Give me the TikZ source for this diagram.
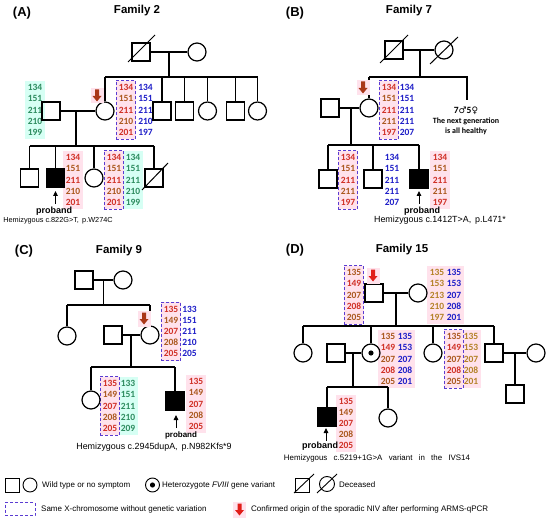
\documentclass[tikz,border=0pt]{standalone}
\usepackage{fontspec}
\setmainfont{Liberation Sans}
\newfontfamily\numf{Carlito}
\newfontfamily\symf{DejaVu Sans}
\usetikzlibrary{calc,arrows.meta}
\definecolor{cred}{RGB}{208,48,38}
\definecolor{cbrown}{RGB}{170,88,30}
\definecolor{cblue}{RGB}{30,30,200}
\definecolor{cgreen}{RGB}{45,140,95}
\definecolor{colive}{RGB}{180,130,40}
\definecolor{cdash}{RGB}{90,60,210}
\definecolor{cpink}{RGB}{255,226,236}
\definecolor{ccyan}{RGB}{214,255,244}
\definecolor{carrowA}{RGB}{170,55,25}
\definecolor{carrowD}{RGB}{225,30,25}
\newcommand{\RB}[5]{\textcolor{cred}{#1}\\\textcolor{cbrown}{#2}\\\textcolor{cred}{#3}\\\textcolor{cbrown}{#4}\\\textcolor{cred}{#5}}
\newcommand{\BR}[5]{\textcolor{cbrown}{#1}\\\textcolor{cred}{#2}\\\textcolor{cbrown}{#3}\\\textcolor{cred}{#4}\\\textcolor{cbrown}{#5}}
\newcommand{\widesp}{\spaceskip=6.3pt\relax}
\tikzset{
  ind/.style={draw, line width=1.2pt, inner sep=0pt, minimum size=18pt},
  male/.style={ind, rectangle},
  female/.style={ind, circle},
  aff/.style={male, fill=black},
  hetf/.style={female, path picture={\fill (path picture bounding box.center) circle (2.6pt);}},
  ln/.style={line width=1.2pt},
  col/.style={font=\numf\bfseries\fontsize{9.5}{11.2}\selectfont, align=center, inner xsep=2.7pt, inner ysep=3.8pt},
  dbox/.style={col, draw=cdash, dash pattern=on 3pt off 2pt, line width=0.9pt, fill=cpink},
  pinkc/.style={col, fill=cpink, inner ysep=3pt},
  cyanc/.style={col, fill=ccyan, text=cgreen, inner ysep=3pt},
  bluec/.style={col, text=cblue},
  olivec/.style={col, text=colive},
  ttl/.style={font=\bfseries\fontsize{11.5}{13}\selectfont},
  lbl/.style={font=\bfseries\fontsize{13}{15}\selectfont},
  prb/.style={font=\bfseries\fontsize{#1}{#1}\selectfont, inner sep=0pt},
  hemi/.style={font=\fontsize{#1}{#1}\selectfont, inner sep=0pt},
  leg/.style={font=\fontsize{8}{9}\selectfont, anchor=west, inner sep=0pt},
  nxt/.style={font=\numf\bfseries\fontsize{8}{9}\selectfont, inner sep=0pt},
  parr/.style={-{Triangle[length=5pt,width=4.5pt]}, line width=0.9pt},
  slash/.style={line width=1pt},
  pics/origin/.style={code={
    \fill[cpink] (-6.5,-8) rectangle (6.5,7.5);
    \fill[#1] (-2,-6.5) -- (2,-6.5) -- (2,0) -- (4.5,0) -- (0,5.5) -- (-4.5,0) -- (-2,0) -- cycle;
  }},
}
\begin{document}
\begin{tikzpicture}[x=1pt,y=-1pt]
\useasboundingbox (0,0) rectangle (550,519);
\fill[white] (0,0) rectangle (550,519);

%%%%%%%%%%%%%%%% Panel A
\node[lbl] (lA) at (22,13) {(A)};
\node[ttl] (tA) at (137,11) {Family 2};
% allele columns
\node[cyanc] (ga1) at (35,110) {134\\151\\211\\210\\199};
\node[dbox] (da1) at (126,110) {\RB{134}{151}{211}{210}{201}};
\node[bluec] (ba1) at (145.5,110) {134\\151\\211\\210\\197};
\node[pinkc] (pa1) at (73,180) {\RB{134}{151}{211}{210}{201}};
\node[cyanc] (ga2) at (133,180) {134\\151\\211\\210\\199};
\node[dbox] (da2) at (114,180) {\RB{134}{151}{211}{210}{201}};
% individuals
\node[male] (a1) at (141,52) {};
\node[female] (a2) at (197,52) {};
\node[female] (a3) at (105,111) {};
\node[male] (a4) at (162,111) {};
\node[male] (a5) at (184.5,111) {};
\node[female] (a6) at (207.5,111) {};
\node[male] (a7) at (235.5,111) {};
\node[female] (a8) at (257.5,111) {};
\node[male] (a9) at (51,111) {};
\node[male] (a10) at (29.5,178) {};
\node[aff] (a11) at (55.5,178) {};
\node[female] (a12) at (94,178) {};
\node[male] (a13) at (154,178) {};
\draw[slash] ($(a1)+(-13,10)$) -- ($(a1)+(14,-17)$);
\draw[slash] ($(a13)+(-12,12)$) -- ($(a13)+(14,-15)$);
% lines
\coordinate (am) at (169,52);
\coordinate (as) at (169,77);
\draw[ln] (a1.east) -- (a2.west);
\draw[ln] (am) -- (as);
\draw[ln] (a3.north |- as) -- (a8.north |- as);
\foreach \n in {a3,a4,a5,a6,a7,a8} \draw[ln] (\n.north |- as) -- (\n.north);
\coordinate (am2) at (76,111);
\coordinate (as2) at (76,146);
\draw[ln] (a9.east) -- (a3.west);
\draw[ln] (am2) -- (as2);
\draw[ln] (a10.north |- as2) -- (a13.north |- as2);
\foreach \n in {a10,a11,a12,a13} \draw[ln] (\n.north |- as2) -- (\n.north);
\pic at (97,96) {origin=carrowA};
\coordinate (pA) at (55.5,204);
\draw[parr] (pA) -- ++(0,-13);
\node[prb=9] (prA) at (54,211) {proband};
\node[hemi=7.3] (hA) at (58,220.5) {Hemizygous c.822G>T,\, p.W274C};

%%%%%%%%%%%%%%%% Panel B
\node[lbl] (lB) at (295,13) {(B)};
\node[ttl] (tB) at (409,11) {Family 7};
\node[dbox] (db1) at (389,110) {\RB{134}{151}{211}{211}{197}};
\node[bluec] (bb1) at (407,110) {134\\151\\211\\211\\207};
\node[dbox] (db2) at (348,180) {\RB{134}{151}{211}{211}{197}};
\node[bluec] (bb2) at (392,180) {134\\151\\211\\211\\207};
\node[pinkc] (pb1) at (440,180) {\RB{134}{151}{211}{211}{197}};
\node[male] (b1) at (394,50) {};
\node[female] (b2) at (444,50) {};
\node[female] (b3) at (369,108) {};
\node[male] (b4) at (330,108) {};
\node[male] (b5) at (328,179) {};
\node[male] (b6) at (373,179) {};
\node[aff] (b7) at (419,179) {};
\draw[slash] ($(b1)+(-14,13)$) -- ($(b1)+(14,-15)$);
\draw[slash] ($(b2)+(-14,14)$) -- ($(b2)+(14,-13)$);
\coordinate (bm) at (420,50);
\coordinate (bs) at (420,77);
\coordinate (bsR) at (467,77);
\coordinate (bR) at (467,100);
\draw[ln] (b1.east) -- (b2.west);
\draw[ln] (bm) -- (bs);
\draw[ln] (b3.north |- bs) -- (bsR) -- (bR);
\draw[ln] (b3.north |- bs) -- (b3.north);
\node[nxt] (bt1) at (466,111) {\fontsize{9.5}{10}\selectfont 7{\symf\fontsize{9}{10}\selectfont ♂}5{\symf\fontsize{9}{10}\selectfont ♀}};
\node[nxt] (bt2) at (466,121.5) {The next generation};
\node[nxt] (bt3) at (466,131) {is all healthy};
\coordinate (bm2) at (351,108);
\coordinate (bs2) at (351,145);
\draw[ln] (b4.east) -- (b3.west);
\draw[ln] (bm2) -- (bs2);
\draw[ln] (b5.north |- bs2) -- (b7.north |- bs2);
\foreach \n in {b5,b6,b7} \draw[ln] (\n.north |- bs2) -- (\n.north);
\pic at (363,88) {origin=carrowA};
\coordinate (pB) at (419,204);
\draw[parr] (pB) -- ++(0,-13);
\node[prb=9] (prB) at (422,211) {proband};
\node[hemi=8.9] (hB) at (440,220.5) {Hemizygous c.1412T>A,\, p.L471*};

%%%%%%%%%%%%%%%% Panel C
\node[lbl] (lC) at (24,251) {(C)};
\node[ttl] (tC) at (119,251) {Family 9};
\node[dbox] (dc1) at (171,331.5) {\RB{135}{149}{207}{208}{205}};
\node[bluec] (bc1) at (189.5,331.5) {133\\151\\211\\210\\205};
\node[cyanc] (gc1) at (128,406) {133\\151\\211\\210\\209};
\node[dbox] (dc2) at (110,406) {\RB{135}{149}{207}{208}{205}};
\node[pinkc] (pc1) at (196,404) {\RB{135}{149}{207}{208}{205}};
\node[male] (c1) at (84,280) {};
\node[female] (c2) at (123,280) {};
\node[female] (c3) at (67,336) {};
\node[male] (c5) at (113,335) {};
\node[female] (c4) at (150,335) {};
\node[female] (c6) at (91,400) {};
\node[aff] (c7) at (175,401) {};
\coordinate (cm) at (103.5,280);
\coordinate (cs) at (103.5,305);
\draw[ln] (c1.east) -- (c2.west);
\draw[ln] (cm) -- (cs);
\draw[ln] (c3.north |- cs) -- (c4.north |- cs);
\foreach \n in {c3,c4} \draw[ln] (\n.north |- cs) -- (\n.north);
\coordinate (cm2) at (131,335);
\coordinate (cs2) at (131,367);
\draw[ln] (c5.east) -- (c4.west);
\draw[ln] (cm2) -- (cs2);
\draw[ln] (c6.north |- cs2) -- (c7.north |- cs2);
\foreach \n in {c6,c7} \draw[ln] (\n.north |- cs2) -- (\n.north);
\pic at (144,319) {origin=carrowA};
\coordinate (pC) at (176,428);
\draw[parr] (pC) -- ++(0,-13);
\node[prb=8] (prC) at (181,435) {proband};
\node[hemi=8.9] (hC) at (154,447.5) {Hemizygous c.2945dupA,\, p.N982Kfs*9};

%%%%%%%%%%%%%%%% Panel D
\node[lbl] (lD) at (295,250) {(D)};
\node[ttl] (tD) at (402,250) {Family 15};
\node[dbox] (dd1) at (354,295) {\BR{135}{149}{207}{208}{205}};
\node[olivec, fill=cpink] (od1) at (437,295) {135\\153\\213\\210\\197};
\node[bluec, fill=cpink] (bd1) at (454,295) {135\\153\\207\\208\\201};
\node[pinkc] (pd1) at (388,359) {\BR{135}{149}{207}{208}{205}};
\node[bluec, fill=cpink] (bd2) at (405,359) {135\\153\\207\\208\\201};
\node[olivec, fill=cpink] (od2) at (471,359) {135\\153\\207\\208\\201};
\node[dbox] (dd2) at (454,359) {\BR{135}{149}{207}{208}{205}};
\node[pinkc] (pd2) at (346,423.5) {\RB{135}{149}{207}{208}{205}};
\node[male] (d1) at (374,293) {};
\node[female] (d2) at (418,293) {};
\node[female] (d3) at (303,353) {};
\node[male] (d4) at (336,353) {};
\node[hetf] (d5) at (371,353) {};
\node[female] (d6) at (433,353) {};
\node[male] (d7) at (494,353) {};
\node[female] (d8) at (536,353) {};
\node[aff] (d9) at (327,417) {};
\node[female] (d10) at (388,418) {};
\node[male] (d11) at (515,394) {};
\coordinate (dm) at (396,293);
\coordinate (ds) at (396,326);
\draw[ln] (d1.east) -- (d2.west);
\draw[ln] (dm) -- (ds);
\draw[ln] (d3.north |- ds) -- (d7.north |- ds);
\foreach \n in {d3,d5,d6,d7} \draw[ln] (\n.north |- ds) -- (\n.north);
\coordinate (dm2) at (353,353);
\coordinate (ds2) at (353,387);
\draw[ln] (d4.east) -- (d5.west);
\draw[ln] (dm2) -- (ds2);
\draw[ln] (d9.north |- ds2) -- (d10.north |- ds2);
\foreach \n in {d9,d10} \draw[ln] (\n.north |- ds2) -- (\n.north);
\coordinate (dm3) at (515,353);
\draw[ln] (d7.east) -- (d8.west);
\draw[ln] (dm3) -- (d11.north);
\pic at (373,276) {origin=carrowD};
\coordinate (pD) at (326,441);
\draw[parr] (pD) -- ++(0,-13);
\node[prb=9] (prD) at (320,446) {proband};
\node[font=\fontsize{7.9}{8}\selectfont\widesp, inner sep=0pt] (hD) at (377,458.5) {Hemizygous c.5219+1G>A variant in the IVS14};

%%%%%%%%%%%%%%%% Legend
\node[male, minimum size=14pt, line width=0.9pt] (l1) at (12.5,485) {};
\node[female, minimum size=14pt, line width=0.9pt] (l2) at (30,485) {};
\node[leg] (lt1) at (42,485) {Wild type or no symptom};
\node[hetf, minimum size=14pt, line width=0.9pt] (l3) at (152.5,485) {};
\node[leg] (lt2) at (162,485) {Heterozygote \textit{FVIII} gene variant};
\node[male, minimum size=14pt, line width=0.9pt] (l4) at (302.5,485) {};
\node[female, minimum size=15pt, line width=0.9pt] (l5) at (327,484) {};
\draw[line width=0.9pt] ($(l4)+(-8.5,8)$) -- ($(l4)+(11.5,-11)$);
\draw[line width=0.9pt] ($(l5)+(-10,9)$) -- ($(l5)+(10,-10)$);
\node[leg] (lt3) at (339,485) {Deceased};
\node[draw=cdash, dash pattern=on 3pt off 2pt, line width=0.9pt, minimum width=30pt, minimum height=13pt, inner sep=0pt] (l6) at (20,509) {};
\node[leg] (lt4) at (41,509) {Same X-chromosome without genetic variation};
\pic at (239.5,510) {origin=carrowD};
\node[leg] (lt5) at (251,509) {Confirmed origin of the sporadic NIV after performing ARMS-qPCR};
\end{tikzpicture}
\end{document}
